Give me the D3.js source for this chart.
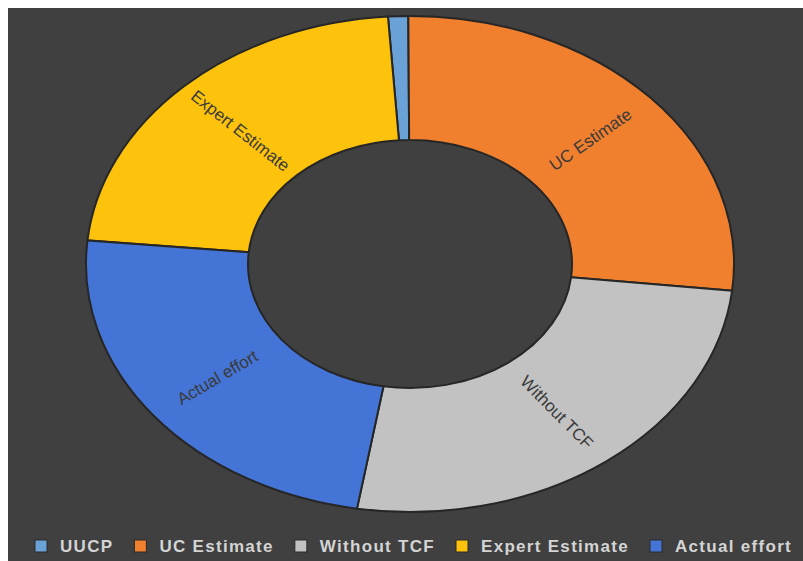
<!DOCTYPE html>
<html>
<head>
<meta charset="utf-8">
<script src="https://cdn.jsdelivr.net/npm/d3@7"></script>
<style>
  html, body { margin: 0; padding: 0; background: #ffffff; }
  svg { display: block; }
</style>
</head>
<body>
<svg id="chart" width="803" height="561"></svg>
<script>
// Effort estimates (legend order)
const categories = ["UUCP", "UC Estimate", "Without TCF", "Expert Estimate", "Actual effort"];
const values = [10, 268, 259, 224, 239];
const colors = ["#6aa2d8", "#f07f2e", "#c2c2c2", "#fcc20c", "#4474d6"];
// Order in which the slices run clockwise round the ring
const sliceOrder = ["UUCP", "UC Estimate", "Without TCF", "Actual effort", "Expert Estimate"];
// Slices that carry an in-ring label
const labelled = ["UC Estimate", "Without TCF", "Expert Estimate", "Actual effort"];

const W = 803, H = 561;
const svg = d3.select("#chart");

// dark panel
svg.append("rect").attr("x", 8).attr("y", 8).attr("width", W - 8).attr("height", H - 8)
  .attr("fill", "#404040");

const data = categories.map((c, i) => ({ name: c, value: values[i], color: colors[i] }));

const cx = 410, cy = 264, rx = 324, ry = 248;
const R = ry, r0 = ry * 0.5;
const sx = rx / ry;

const startA = -3.9 * Math.PI / 180;
const pie = d3.pie()
  .value(d => d.value)
  .sort((a, b) => sliceOrder.indexOf(a.name) - sliceOrder.indexOf(b.name))
  .startAngle(startA)
  .endAngle(startA + 2 * Math.PI);

const arcs = pie(data);
const arc = d3.arc().innerRadius(r0).outerRadius(R);

const ring = svg.append("g").attr("transform", `translate(${cx},${cy}) scale(${sx},1)`);
ring.selectAll("path").data(arcs).join("path")
  .attr("d", arc)
  .attr("fill", d => d.data.color)
  .attr("stroke", "#262626")
  .attr("stroke-width", 2)
  .attr("vector-effect", "non-scaling-stroke");

// radial labels in the middle of the ring
const labels = svg.append("g");
arcs.filter(d => labelled.includes(d.data.name)).forEach(d => {
  const a = (d.startAngle + d.endAngle) / 2;
  const m = 0.75;
  const x = cx + rx * m * Math.sin(a);
  const y = cy - ry * m * Math.cos(a);
  const dx = rx * Math.sin(a), dy = -ry * Math.cos(a);
  let rot = Math.atan2(dy, dx) * 180 / Math.PI;
  if (dx < 0) rot += 180;
  labels.append("text")
    .attr("transform", `translate(${x},${y}) rotate(${rot})`)
    .attr("text-anchor", "middle")
    .attr("dy", "0.35em")
    .attr("font-family", "Liberation Sans, Arial, sans-serif")
    .attr("font-size", 17)
    .attr("fill", "#3a3a3a")
    .text(d.data.name);
});

// legend along the bottom
const legend = svg.append("g").attr("transform", "translate(0,546)");
let lx = 35;
data.forEach(d => {
  const g = legend.append("g").attr("transform", `translate(${lx},0)`);
  g.append("rect").attr("x", 0).attr("y", -6).attr("width", 12).attr("height", 12)
    .attr("fill", d.color).attr("stroke", "#2a2a2a").attr("stroke-width", 1);
  const t = g.append("text").attr("x", 25).attr("y", 0).attr("dy", "0.36em")
    .attr("font-family", "Liberation Sans, Arial, sans-serif")
    .attr("font-size", 17).attr("font-weight", "bold")
    .attr("letter-spacing", 1.3)
    .attr("fill", "#d4d4d4")
    .text(d.name);
  lx += 25 + t.node().getComputedTextLength() + 21;
});
</script>
</body>
</html>
